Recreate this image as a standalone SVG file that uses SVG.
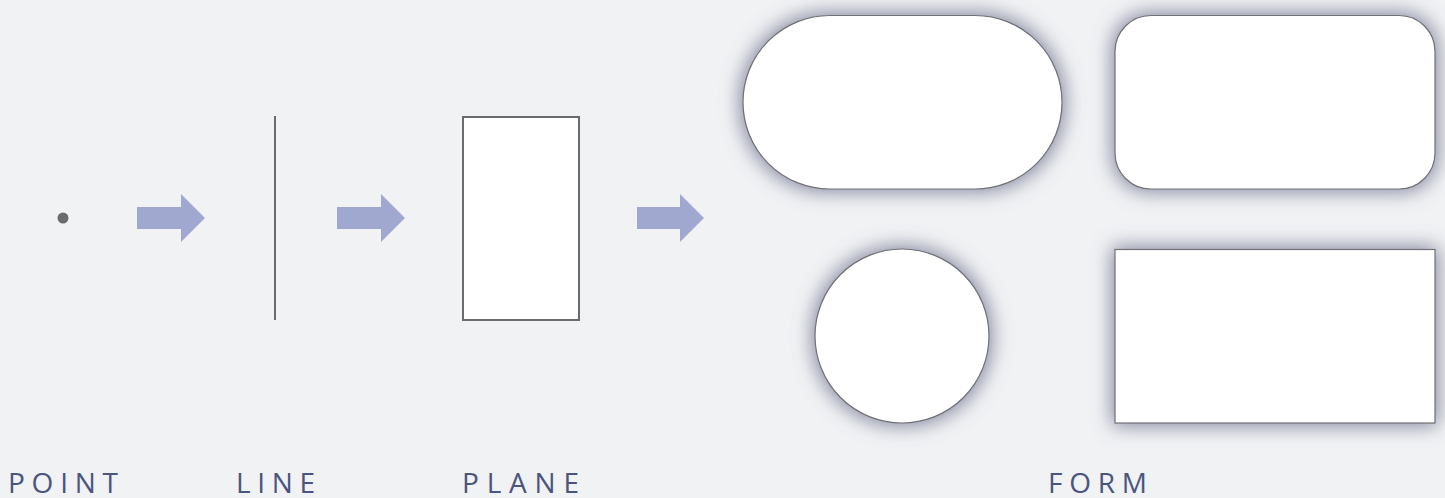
<svg xmlns="http://www.w3.org/2000/svg" width="1445" height="498" viewBox="0 0 1445 498">
<defs>
<style>
.lbl{font-family:"Open Sans","Lato",sans-serif;font-weight:400;font-size:28px;fill:#4a5580;letter-spacing:3px}
.arr{fill:#a1a8cf}
.shape{fill:#ffffff;stroke:#707075;stroke-width:1.2}
.plane{fill:#ffffff;stroke:#6b6b6e;stroke-width:2}
</style>
<filter id="sh2" x="-25%" y="-25%" width="150%" height="150%">
<feMorphology in="SourceAlpha" operator="dilate" radius="2" result="d"/>
<feGaussianBlur in="d" stdDeviation="10" result="b"/>
<feFlood flood-color="#747892" flood-opacity="0.9" result="c"/>
<feComposite in="c" in2="b" operator="in" result="s"/>
<feMerge><feMergeNode in="s"/><feMergeNode in="SourceGraphic"/></feMerge>
</filter>
</defs>
<rect width="1445" height="498" fill="#f1f2f4"/>
<g id="point"><circle cx="63" cy="218" r="5.5" fill="#6b6b6e"/></g>
<g id="line"><line x1="275" y1="116" x2="275" y2="320" stroke="#6b6b6e" stroke-width="2"/></g>
<g id="plane"><rect class="plane" x="463" y="117" width="116" height="203"/></g>
<g id="form">
<rect class="shape" filter="url(#sh2)" x="743" y="15.5" width="319" height="173.5" rx="86.75"/>
<rect class="shape" filter="url(#sh2)" x="1115" y="15.5" width="320" height="173.5" rx="36"/>
<circle class="shape" filter="url(#sh2)" cx="902" cy="336" r="87"/>
<rect class="shape" filter="url(#sh2)" x="1115" y="249.5" width="320" height="173.5"/>
</g>
<g id="connectors">
<polygon class="arr" points="137,207 181,207 181,194 205,218 181,242 181,229 137,229"/>
<polygon class="arr" points="337,207 381,207 381,194 405,218 381,242 381,229 337,229"/>
<polygon class="arr" points="637,207 680,207 680,194 704,218 680,242 680,229 637,229"/>
</g>
<g id="labels">
<text class="lbl" x="8" y="493" textLength="113" lengthAdjust="spacing">POINT</text>
<text class="lbl" x="236" y="493" textLength="82" lengthAdjust="spacing">LINE</text>
<text class="lbl" x="462" y="493" textLength="120" lengthAdjust="spacing">PLANE</text>
<text class="lbl" x="1048" y="493" textLength="102" lengthAdjust="spacing">FORM</text>
</g>
</svg>
